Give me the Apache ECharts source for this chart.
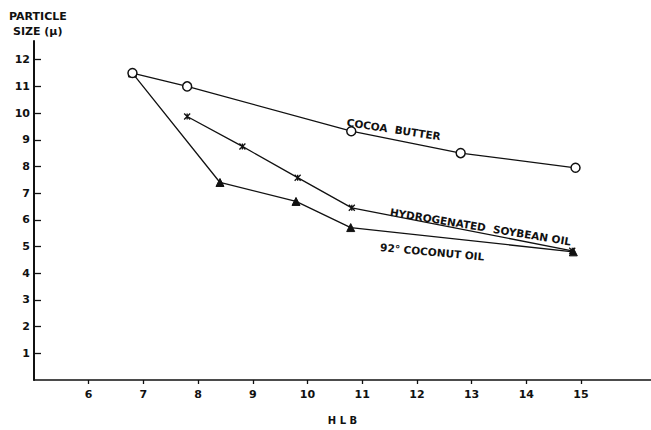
<!DOCTYPE html>
<html><head><meta charset="utf-8">
<script src="https://cdn.jsdelivr.net/npm/echarts@6/dist/echarts.min.js"></script>
<style>html,body{margin:0;padding:0;background:#fff}#c{width:651px;height:430px}</style>
</head><body><div id="c"></div>
<script>
const cocoaX = [6.8, 7.8, 10.8, 12.8, 14.9];
const cocoaY = [11.5, 11.0, 9.32, 8.5, 7.95];
const soyX = [7.8, 8.81, 9.82, 10.81, 14.84];
const soyY = [9.87, 8.75, 7.58, 6.45, 4.84];
const cocoX = [6.8, 8.4, 9.79, 10.79, 14.86];
const cocoY = [11.5, 7.4, 6.69, 5.71, 4.8];
const xTicks = [6, 7, 8, 9, 10, 11, 12, 13, 14, 15];
const yTicks = [1, 2, 3, 4, 5, 6, 7, 8, 9, 10, 11, 12];
const labels = [
  {text: 'COCOA  BUTTER', x: 10.72, y: 9.66, rot: -8.6},
  {text: 'HYDROGENATED  SOYBEAN OIL', x: 11.51, y: 6.3, rot: -9.3},
  {text: '92° COCONUT OIL', x: 11.33, y: 4.98, rot: -5.3}
];
const zip = (a, b) => a.map((v, i) => [v, b[i]]);
const FONT = '"DejaVu Sans", sans-serif';
const chart = echarts.init(document.getElementById('c'), null, {renderer: 'svg'});
const cross = 'path://M0,0L10,10M10,0L0,10M5,0L5,10';
const lineStyle = {color: '#111', width: 1.3};
chart.setOption({
  animation: false,
  grid: {left: 34, right: 0, top: 41, bottom: 42.3},
  xAxis: {
    type: 'value', min: 5, max: 16.28, interval: 1,
    splitLine: {show: false},
    axisLine: {lineStyle: {color: '#111', width: 1.5}},
    axisTick: {customValues: xTicks, length: 4, lineStyle: {color: '#111', width: 1.3}},
    axisLabel: {customValues: xTicks, margin: 9, color: '#111', fontFamily: FONT, fontWeight: 'bold', fontSize: 11},
    name: 'H L B', nameLocation: 'middle', nameGap: 35,
    nameTextStyle: {color: '#111', fontFamily: FONT, fontWeight: 'bold', fontSize: 10}
  },
  yAxis: {
    type: 'value', min: 0, max: 12.7, interval: 1,
    splitLine: {show: false},
    axisLine: {lineStyle: {color: '#111', width: 2}},
    axisTick: {customValues: yTicks, inside: true, length: 7, lineStyle: {color: '#111', width: 1.3}},
    axisLabel: {customValues: yTicks, margin: 4, color: '#111', fontFamily: FONT, fontWeight: 'bold', fontSize: 11}
  },
  series: [
    {type: 'line', data: zip(cocoaX, cocoaY), symbol: 'circle', symbolSize: 9,
     itemStyle: {color: '#fff', borderColor: '#111', borderWidth: 1.5}, lineStyle, z: 3},
    {type: 'line', data: zip(soyX, soyY), symbol: cross, symbolSize: 6,
     itemStyle: {color: 'none', borderColor: '#111', borderWidth: 1.3}, lineStyle, z: 2},
    {type: 'line', data: zip(cocoX, cocoY), symbol: 'triangle', symbolSize: 8,
     itemStyle: {color: '#111', borderColor: '#111'}, lineStyle, z: 2}
  ]
});
const g = [
  {type: 'text', left: 9, top: 11, style: {text: 'PARTICLE', font: 'bold 11px ' + FONT, fill: '#111'}},
  {type: 'text', left: 13, top: 26, style: {text: 'SIZE (μ)', font: 'bold 11px ' + FONT, fill: '#111'}}
];
labels.forEach(l => {
  const p = chart.convertToPixel({gridIndex: 0}, [l.x, l.y]);
  g.push({type: 'text', x: p[0], y: p[1], rotation: l.rot * Math.PI / 180,
    style: {text: l.text, font: 'bold 10.5px ' + FONT, fill: '#111', textVerticalAlign: 'middle'}});
});
chart.setOption({graphic: g});
</script></body></html>
